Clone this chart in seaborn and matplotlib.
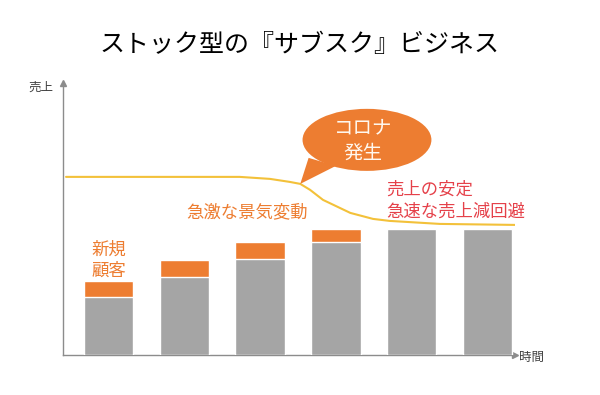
import matplotlib
matplotlib.use("Agg")
import matplotlib.pyplot as plt
from matplotlib.patches import Ellipse, Polygon
import seaborn as sns
import pandas as pd

# ---- data ----
periods = [1, 2, 3, 4, 5, 6]
existing = [58, 78, 96, 113, 126, 126]      # 既存顧客 (gray)
new_customers = [16, 17, 17, 13, 0, 0]       # 新規顧客 (orange)
curve_x = [-0.56, 1.73, 2.13, 2.39, 2.53, 2.66, 2.83, 3.19, 3.49, 3.71, 4.37, 5.36]
curve_y = [178, 178, 176, 173, 171, 165, 155, 142, 136, 134, 131, 130]

title = "ストック型の『サブスク』ビジネス"
ylabel = "売上"
xlabel = "時間"

ORANGE = "#ED7D31"
GRAY = "#A5A5A5"
GOLD = "#F3C13A"
RED = "#E5414A"
AXIS = "#8C8C8C"

sns.set_style("white")
plt.rcParams['font.family'] = ['Noto Sans CJK JP', 'DejaVu Sans']

df = pd.DataFrame({"period": periods,
                   "existing": existing,
                   "total": [a + b for a, b in zip(existing, new_customers)]})

fig = plt.figure(figsize=(6.0, 3.95), dpi=100)
ax = fig.add_axes([0.105, 0.1013, 0.753, 0.689])

sns.barplot(data=df, x="period", y="total", color=ORANGE, width=0.65,
            saturation=1, ax=ax, zorder=2)
sns.barplot(data=df, x="period", y="existing", color=GRAY, width=0.65,
            saturation=1, ax=ax, zorder=3)
sns.lineplot(x=curve_x, y=curve_y, color=GOLD, linewidth=1.5, ax=ax, zorder=4)

ax.set_xlim(-0.60, 5.36)
ax.set_ylim(0, 272)
ax.set_xticks([])
ax.set_yticks([])
ax.set_xlabel("")
ax.set_ylabel("")
for s in ["top", "right"]:
    ax.spines[s].set_visible(False)
for s in ["left", "bottom"]:
    ax.spines[s].set_color(AXIS)
    ax.spines[s].set_linewidth(1.0)
ax.plot([0], [1], marker="^", color=AXIS, markersize=5, transform=ax.transAxes, clip_on=False)
ax.plot([1], [0], marker=">", color=AXIS, markersize=5, transform=ax.transAxes, clip_on=False)

# speech bubble
ax.add_patch(Polygon([(2.53, 171), (2.64, 197), (3.0, 189)], closed=True,
                     fc=ORANGE, ec="none", zorder=5))
ax.add_patch(Ellipse((3.41, 215), 1.70, 62, fc=ORANGE, ec="none", zorder=5))
ax.text(3.36, 214, "コロナ\n発生", color="#FFF8F0", fontsize=14, ha="center",
        va="center", linespacing=1.3, zorder=6)

ax.text(0.0, 95, "新規\n顧客", color=ORANGE, fontsize=12.5, ha="center", va="center",
        linespacing=1.2)
ax.text(1.83, 143, "急激な景気変動", color=ORANGE, fontsize=12.5, ha="center", va="center")
ax.text(3.67, 154, "売上の安定\n急速な売上減回避", color=RED, fontsize=12.5, ha="left",
        va="center", linespacing=1.25)

fig.text(0.5, 0.886, title, fontsize=18, ha="center", va="center", color="black")
fig.text(0.068, 0.78, ylabel, fontsize=9, ha="center", va="center", color="#404040")
fig.text(0.886, 0.096, xlabel, fontsize=9, ha="center", va="center", color="#404040")

fig.savefig("out.png", dpi=100)
